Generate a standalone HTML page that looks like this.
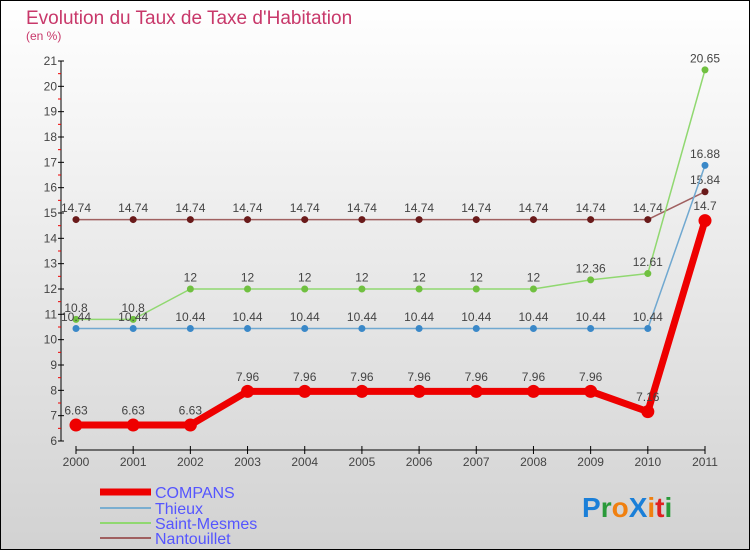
<!DOCTYPE html>
<html><head><meta charset="utf-8"><style>
body{margin:0;}
svg text{font-family:"Liberation Sans",sans-serif;}
</style></head><body>
<svg id="chart" width="750" height="550" xmlns="http://www.w3.org/2000/svg">
<defs><linearGradient id="bg" x1="0" y1="0" x2="0" y2="1"><stop offset="0" stop-color="#ffffff"/><stop offset="1" stop-color="#d2d2d2"/></linearGradient></defs>
<rect x="0.5" y="0.5" width="749" height="549" fill="url(#bg)" stroke="#000"/>
<text x="26" y="24" font-size="19" fill="#c8386a">Evolution du Taux de Taxe d'Habitation</text>
<text x="26" y="40" font-size="12" fill="#c8386a">(en %)</text>
<g id="axes"></g><g id="series"></g>
<g>
<line x1="100" y1="492" x2="151" y2="492" stroke="#ee0000" stroke-width="7"/>
<text x="155" y="498" font-size="16" fill="#5555ff">COMPANS</text>
<line x1="100" y1="508" x2="151" y2="508" stroke="#7aaed0" stroke-width="2"/>
<text x="155" y="514" font-size="16" fill="#5555ff">Thieux</text>
<line x1="100" y1="523" x2="151" y2="523" stroke="#90d870" stroke-width="2"/>
<text x="155" y="529" font-size="16" fill="#5555ff">Saint-Mesmes</text>
<line x1="100" y1="538" x2="151" y2="538" stroke="#a06060" stroke-width="2"/>
<text x="155" y="544" font-size="16" fill="#5555ff">Nantouillet</text>
</g>
<text x="582" y="517" font-size="28" font-weight="bold"><tspan fill="#1a7fd8">P</tspan><tspan fill="#2a9a3a">r</tspan><tspan fill="#f08010">o</tspan><tspan fill="#1a7fd8">X</tspan><tspan fill="#f08010">i</tspan><tspan fill="#e02020">t</tspan><tspan fill="#2a9a3a">i</tspan></text>
</svg>
<script>
const years=["2000","2001","2002","2003","2004","2005","2006","2007","2008","2009","2010","2011"];
const yTicks=[6,7,8,9,10,11,12,13,14,15,16,17,18,19,20,21];
const compans=[6.63,6.63,6.63,7.96,7.96,7.96,7.96,7.96,7.96,7.96,7.16,14.7];
const thieux=[10.44,10.44,10.44,10.44,10.44,10.44,10.44,10.44,10.44,10.44,10.44,16.88];
const saintMesmes=[10.8,10.8,12,12,12,12,12,12,12,12.36,12.61,20.65];
const nantouillet=[14.74,14.74,14.74,14.74,14.74,14.74,14.74,14.74,14.74,14.74,14.74,15.84];
const NS="http://www.w3.org/2000/svg";
const xs=i=>76+i*(629/11);
const ys=v=>441-(v-6)*(380/15);
function mk(p,t,a){const e=document.createElementNS(NS,t);for(const k in a)e.setAttribute(k,a[k]);p.appendChild(e);return e;}
const ax=document.getElementById('axes');
const yl=mk(ax,'line',{x1:61,y1:ys(21),x2:61,y2:ys(6),stroke:'#000'});


yTicks.forEach(v=>{
 mk(ax,'line',{x1:58,y1:ys(v),x2:64,y2:ys(v),stroke:'#000'});
 if(v<21)mk(ax,'line',{x1:58,y1:ys(v+0.5),x2:61,y2:ys(v+0.5),stroke:'#e00'});
 const t=mk(ax,'text',{x:57,y:ys(v)+4,'font-size':12,fill:'#444','text-anchor':'end'});
 
 
 t.textContent=v;
});
const xl=mk(ax,'line',{x1:xs(0),y1:450,x2:xs(11),y2:450,stroke:'#000'});


years.forEach((y,i)=>{
 mk(ax,'line',{x1:xs(i),y1:446,x2:xs(i),y2:454,stroke:'#000'});
 const t=mk(ax,'text',{x:xs(i),y:466,'font-size':12,fill:'#444','text-anchor':'middle'});
 
 
 t.textContent=y;
});
const sg=document.getElementById('series');
function draw(name,data,color,dot,w,r){
 const g=mk(sg,'g',{});
 
 
 mk(g,'polyline',{points:data.map((v,i)=>xs(i)+','+ys(v)).join(' '),fill:'none',stroke:color,'stroke-width':w,'stroke-linejoin':'round'});
 data.forEach((v,i)=>{
  const c=mk(g,'circle',{cx:xs(i),cy:ys(v),r:r,fill:dot});
  
  
  const t=mk(g,'text',{x:xs(i),y:ys(v)-r-4,'font-size':12,fill:'#444','text-anchor':'middle'});
  
  
  t.textContent=String(v);
 });
}
draw('series-nantouillet',nantouillet,'#a06060','#6a1a1a',1.5,3.5);
draw('series-saint-mesmes',saintMesmes,'#90d870','#70c040',1.5,3.5);
draw('series-thieux',thieux,'#70a8d0','#3a88c8',1.5,3.5);
draw('series-compans',compans,'#ee0000','#ee0000',7,6.5);
</script>
</body></html>
